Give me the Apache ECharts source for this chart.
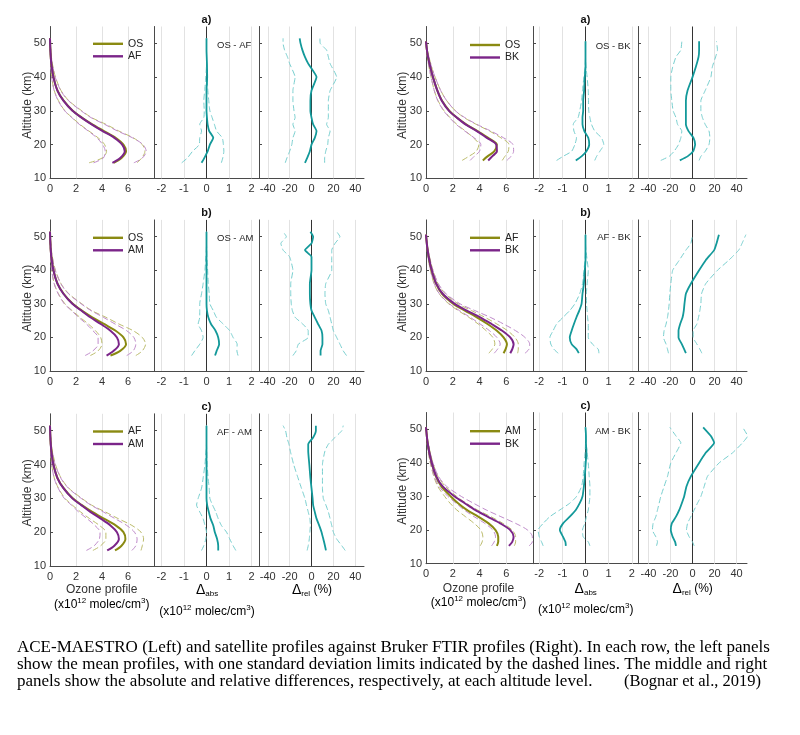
<!DOCTYPE html>
<html><head><meta charset="utf-8">
<script src="https://cdn.jsdelivr.net/npm/echarts@6/dist/echarts.min.js"></script>
<style>html,body{margin:0;padding:0;background:#fff;}#c{width:800px;height:735px;}</style>
</head><body><div id="c"></div>
<script>
// ---------- DATA ----------
const altL = [14.6,16,18,20,22,24,26,28,30,33,36,40,44,46,48,50,51.5];
const altR = [15.3,16.5,18,20,22,24,26,28,30,33,36,40,43,46,48,50.6];
const xTicksProfile = [0,2,4,6];
const xTicksAbs = [-2,-1,0,1,2];
const xTicksRel = [-40,-20,0,20,40];
const yTicks = [10,20,30,40,50];

// Left row a) OS vs AF
const L1_OS    = [4.9,5.5,5.85,5.65,5.05,4.15,3.25,2.45,1.75,1.05,0.58,0.27,0.11,0.06,0.03,0.01,0];
const L1_AF    = [4.8,5.4,5.75,5.55,4.95,4.05,3.2,2.42,1.73,1.03,0.57,0.26,0.1,0.06,0.03,0.01,0];
const L1_OS_hi = [6.7,7.05,7.3,7.1,6.4,5.3,4.3,3.2,2.45,1.45,0.85,0.42,0.18,0.11,0.06,0.02,0];
const L1_OS_lo = [3.0,4.0,4.35,4.2,3.7,3.0,2.3,1.7,1.15,0.65,0.33,0.13,0.05,0.03,0.01,0,0];
const L1_AF_hi = [6.45,7.1,7.4,7.15,6.35,5.2,4.2,3.15,2.4,1.42,0.83,0.4,0.17,0.1,0.06,0.02,0];
const L1_AF_lo = [3.35,4.1,4.25,4.05,3.6,2.95,2.25,1.68,1.13,0.63,0.32,0.13,0.05,0.03,0.01,0,0];
const L1_abs    = [-0.22,-0.1,0.05,0.15,0.3,0.12,0.05,0.02,0,0,0,0.03,0.02,0.01,0,0,0];
const L1_abs_lo = [-1.1,-0.85,-0.62,-0.32,-0.3,-0.22,-0.3,-0.12,-0.1,-0.12,-0.08,-0.03,0,0,0,0,0];
const L1_abs_hi = [0.66,0.72,0.77,0.75,0.7,0.45,0.35,0.25,0.15,0.1,0.06,0.03,0.01,0,0,0,0];
const L1_rel    = [-6,-4,-1.5,0,3,4.6,1.5,0,-1,-1,0,4.6,-3,-6,-8.3,-10,-10.8];
const L1_rel_lo = [-24,-22.5,-20,-18,-17,-15,-17,-15,-16,-17,-17,-15,-20,-22,-24.6,-26,-26];
const L1_rel_hi = [12,12,13,14.8,15.4,17,13.8,15.4,15.4,15.4,17,23,17,15.4,13.8,8,7.7];

// Left row b) OS vs AM
const L2_OS    = [4.65,5.4,5.85,5.65,5.05,4.15,3.25,2.45,1.75,1.05,0.58,0.27,0.11,0.06,0.03,0.01,0];
const L2_AM    = [4.35,4.9,5.3,5.15,4.65,3.9,3.1,2.4,1.72,1.03,0.57,0.26,0.1,0.06,0.03,0.01,0];
const L2_OS_hi = [6.6,7.1,7.35,7.1,6.4,5.3,4.3,3.2,2.45,1.45,0.85,0.42,0.18,0.11,0.06,0.02,0];
const L2_OS_lo = [3.1,3.7,4.0,3.9,3.5,2.95,2.3,1.7,1.15,0.65,0.33,0.13,0.05,0.03,0.01,0,0];
const L2_AM_hi = [5.9,6.4,6.6,6.45,5.9,5.0,4.1,3.15,2.4,1.42,0.83,0.4,0.17,0.1,0.06,0.02,0];
const L2_AM_lo = [2.7,3.3,3.7,3.7,3.3,2.8,2.2,1.65,1.1,0.63,0.32,0.13,0.05,0.03,0.01,0,0];
const L2_abs    = [0.38,0.45,0.56,0.52,0.4,0.2,0.08,0.02,0,0,0,0,0,0,0,0,0];
const L2_abs_lo = [-0.66,-0.52,-0.3,-0.15,-0.22,-0.37,-0.3,-0.3,-0.3,-0.22,-0.15,-0.07,-0.03,-0.01,0,0,0];
const L2_abs_hi = [1.4,1.35,1.36,1.18,1.03,0.74,0.44,0.3,0.15,0.12,0.08,0.05,0.02,0.01,0,0,0];
const L2_rel    = [8.3,8.3,10,10,9.2,6,3,0,-1,-1.5,-1.5,0,0,-6,0,1.5,-1];
const L2_rel_lo = [-17,-14,-12,-3,-3,-8,-15,-17.5,-18.5,-19,-19,-17,-20,-26,-28,-23,-26];
const L2_rel_hi = [32,29,26,23,20,18.5,17,15.4,13,12.3,13,18.5,18.5,18.5,21.5,26,23];

// Left row c) AF vs AM
const L3_AF    = [5.0,5.5,5.8,5.65,5.05,4.15,3.25,2.45,1.75,1.05,0.58,0.27,0.11,0.06,0.03,0.01,0];
const L3_AM    = [4.4,4.95,5.3,5.15,4.65,3.9,3.1,2.4,1.72,1.03,0.57,0.26,0.1,0.06,0.03,0.01,0];
const L3_AF_hi = [7.0,7.1,7.2,7.0,6.3,5.25,4.25,3.2,2.45,1.45,0.85,0.42,0.18,0.1,0.06,0.02,0];
const L3_AF_lo = [3.3,3.9,4.3,4.3,3.8,3.05,2.35,1.72,1.15,0.65,0.33,0.13,0.05,0.03,0.01,0,0];
const L3_AM_hi = [6.3,6.6,6.7,6.5,5.9,5.0,4.1,3.15,2.4,1.42,0.83,0.4,0.17,0.1,0.06,0.02,0];
const L3_AM_lo = [2.8,3.4,3.8,3.85,3.45,2.85,2.2,1.65,1.1,0.63,0.32,0.13,0.05,0.03,0.01,0,0];
const L3_abs    = [0.52,0.52,0.47,0.37,0.3,0.18,0.1,0.03,0,0,0,0,0,0,0,0,0];
const L3_abs_lo = [-0.22,-0.12,-0.03,0,-0.07,-0.15,-0.3,-0.44,-0.37,-0.22,-0.15,-0.07,-0.02,0,0,0,0];
const L3_abs_hi = [1.3,1.18,1.03,0.89,0.66,0.52,0.41,0.27,0.15,0.12,0.07,0.03,0.01,0,0,0,0];
const L3_rel    = [13.2,12.3,10.8,9.2,7,4.6,3,1.5,1,0,-1,-2,-3,-3,1.5,4,4];
const L3_rel_lo = [-4,-3,-2,-1.5,-1,-1.5,-3,-4.6,-6,-9.2,-12.3,-16.3,-19.4,-20.6,-22.5,-23.7,-26];
const L3_rel_hi = [30.8,27.7,23,20,18.5,17,15.4,13.2,10.8,10,10,10,12.3,15.4,21.5,27.7,29];

// Right row a) OS vs BK
const R1_OS    = [4.25,4.6,5.1,5.3,4.65,3.85,3.0,2.3,1.75,1.2,0.85,0.52,0.32,0.15,0.07,0];
const R1_BK    = [4.65,4.95,5.3,5.25,4.55,3.8,2.95,2.3,1.72,1.18,0.85,0.52,0.32,0.15,0.07,0];
const R1_OS_hi = [5.7,5.9,6.15,6.2,5.6,4.75,3.75,2.85,2.2,1.55,1.1,0.68,0.42,0.22,0.1,0];
const R1_OS_lo = [2.7,3.2,3.75,3.95,3.55,2.95,2.3,1.8,1.35,0.9,0.62,0.38,0.22,0.1,0.04,0];
const R1_BK_hi = [6.05,6.35,6.55,6.5,5.8,4.85,3.8,2.9,2.2,1.55,1.1,0.68,0.42,0.22,0.1,0];
const R1_BK_lo = [3.3,3.6,4.0,4.1,3.6,2.9,2.25,1.75,1.32,0.88,0.62,0.38,0.22,0.1,0.04,0];
const R1_abs    = [-0.42,-0.17,0.04,0.16,0.12,-0.05,-0.13,-0.13,-0.1,-0.1,-0.06,-0.03,0,0,0,0];
const R1_abs_lo = [-1.25,-0.97,-0.6,-0.46,-0.39,-0.5,-0.53,-0.32,-0.25,-0.17,-0.13,-0.07,-0.02,0,0,0];
const R1_abs_hi = [0.4,0.48,0.62,0.79,0.69,0.4,0.26,0.19,0.14,0.13,0.12,0.07,0.02,0,0,0];
const R1_rel    = [-11.5,-4.5,0.6,2.4,0.9,-3.6,-6,-6,-6,-6,-4.5,0,3,5.5,6,6];
const R1_rel_lo = [-28.8,-21.2,-16.7,-12.7,-10.6,-9.7,-13.6,-15,-17.6,-18.8,-19.7,-19.7,-18,-15,-10.6,-9.7];
const R1_rel_hi = [6,7.6,11.5,15,15.8,15,11.5,9,7.6,7.6,11.5,16.7,18,21,22.7,21.8];

// Right row b) AF vs BK
const R2_AF    = [5.8,5.95,6.05,5.8,5.3,4.6,3.8,2.9,2.05,1.2,0.75,0.42,0.25,0.12,0.06,0];
const R2_BK    = [6.3,6.45,6.55,6.3,5.7,4.9,4.05,3.05,2.15,1.25,0.77,0.43,0.25,0.12,0.06,0];
const R2_AF_hi = [6.85,6.9,6.9,6.65,6.1,5.3,4.4,3.4,2.4,1.45,0.9,0.52,0.32,0.16,0.08,0];
const R2_AF_lo = [4.7,4.95,5.15,5.0,4.5,3.9,3.2,2.4,1.7,0.98,0.6,0.33,0.19,0.09,0.04,0];
const R2_BK_hi = [7.4,7.7,7.75,7.4,6.7,5.8,4.8,3.65,2.55,1.5,0.92,0.52,0.32,0.16,0.08,0];
const R2_BK_lo = [5.1,5.35,5.55,5.3,4.75,4.05,3.3,2.5,1.75,1.0,0.62,0.34,0.19,0.09,0.04,0];
const R2_abs    = [-0.29,-0.39,-0.6,-0.68,-0.6,-0.5,-0.39,-0.27,-0.17,-0.13,-0.07,-0.03,0,0,0,0];
const R2_abs_lo = [-1.18,-1.37,-1.5,-1.54,-1.4,-1.25,-0.97,-0.68,-0.46,-0.25,-0.13,-0.07,-0.02,0,0,0];
const R2_abs_hi = [0.58,0.55,0.3,0.12,0.12,0.12,0.09,0.07,0.04,0.04,0.07,0.12,0.07,0.02,0,0];
const R2_rel    = [-6,-7.6,-9.7,-12.7,-12.7,-11.2,-9,-7.9,-7.3,-6,-1.5,6,12,19.7,21.8,24];
const R2_rel_lo = [-21.8,-22.7,-24,-26.4,-25.8,-24,-22.7,-21.8,-21.2,-20.6,-19.7,-18,-12,-6,-1.5,0];
const R2_rel_hi = [8.5,6.7,4,0.6,0.6,4,5.5,6.7,7.6,8.2,12,22.7,33,42,45,48.5];

// Right row c) AM vs BK
const R3_AM    = [5.3,5.4,5.4,5.2,4.68,3.9,3.05,2.4,1.85,1.15,0.74,0.42,0.25,0.12,0.06,0];
const R3_BK    = [6.2,6.45,6.55,6.3,5.55,4.6,3.67,2.9,2.15,1.25,0.77,0.43,0.25,0.12,0.06,0];
const R3_AM_hi = [6.6,6.7,6.7,6.45,5.75,4.85,3.85,3.0,2.3,1.45,0.9,0.52,0.32,0.16,0.08,0];
const R3_AM_lo = [4.05,4.2,4.25,4.1,3.6,2.95,2.3,1.8,1.4,0.88,0.58,0.32,0.18,0.08,0.04,0];
const R3_BK_hi = [7.7,7.95,7.95,7.6,6.7,5.6,4.5,3.55,2.65,1.55,0.93,0.52,0.32,0.16,0.08,0];
const R3_BK_lo = [4.9,5.1,5.2,5.0,4.4,3.6,2.85,2.25,1.65,0.98,0.62,0.34,0.19,0.09,0.04,0];
const R3_abs    = [-0.85,-0.87,-0.97,-1.11,-0.97,-0.68,-0.42,-0.25,-0.13,-0.07,-0.03,0.01,0.04,0.02,0.02,0];
const R3_abs_lo = [-1.83,-1.9,-2.0,-2.05,-1.83,-1.54,-1.11,-0.68,-0.39,-0.17,-0.1,-0.06,-0.02,0,0,0];
const R3_abs_hi = [0.19,0.12,-0.1,-0.13,-0.03,0.04,0.12,0.16,0.19,0.19,0.16,0.12,0.07,0.03,0.01,0];
const R3_rel    = [-15,-15.8,-18,-19.7,-18.8,-15,-12,-9.7,-7.6,-5.5,-1.5,6,12,19.7,16.7,9.7];
const R3_rel_lo = [-32.7,-31.8,-33.3,-36.4,-35.8,-33.3,-31.8,-30.3,-28.8,-25.8,-22.7,-19.7,-15,-10.6,-15,-20.6];
const R3_rel_hi = [1.5,0,-3,-5.5,-4.5,-1.5,1.5,4.5,7.6,10.6,13.6,24.2,36.4,45.5,50,45.5];

const captionLines = [
  'ACE-MAESTRO (Left) and satellite profiles against Bruker FTIR profiles (Right). In each row, the left panels',
  'show the mean profiles, with one standard deviation limits indicated by the dashed lines. The middle and right',
  'panels show the absolute and relative differences, respectively, at each altitude level.'
];
const citation = '(Bognar et al., 2019)';

// ---------- PANELS ----------
const panels = [
  {side:'L', row:0, alt:altL, names:['OS','AF'], m:[L1_OS,L1_AF], hi:[L1_OS_hi,L1_AF_hi], lo:[L1_OS_lo,L1_AF_lo], abs:[L1_abs,L1_abs_lo,L1_abs_hi], rel:[L1_rel,L1_rel_lo,L1_rel_hi], tag:'a)', diff:'OS - AF'},
  {side:'L', row:1, alt:altL, names:['OS','AM'], m:[L2_OS,L2_AM], hi:[L2_OS_hi,L2_AM_hi], lo:[L2_OS_lo,L2_AM_lo], abs:[L2_abs,L2_abs_lo,L2_abs_hi], rel:[L2_rel,L2_rel_lo,L2_rel_hi], tag:'b)', diff:'OS - AM'},
  {side:'L', row:2, alt:altL, names:['AF','AM'], m:[L3_AF,L3_AM], hi:[L3_AF_hi,L3_AM_hi], lo:[L3_AF_lo,L3_AM_lo], abs:[L3_abs,L3_abs_lo,L3_abs_hi], rel:[L3_rel,L3_rel_lo,L3_rel_hi], tag:'c)', diff:'AF - AM'},
  {side:'R', row:0, alt:altR, names:['OS','BK'], m:[R1_OS,R1_BK], hi:[R1_OS_hi,R1_BK_hi], lo:[R1_OS_lo,R1_BK_lo], abs:[R1_abs,R1_abs_lo,R1_abs_hi], rel:[R1_rel,R1_rel_lo,R1_rel_hi], tag:'a)', diff:'OS - BK'},
  {side:'R', row:1, alt:altR, names:['AF','BK'], m:[R2_AF,R2_BK], hi:[R2_AF_hi,R2_BK_hi], lo:[R2_AF_lo,R2_BK_lo], abs:[R2_abs,R2_abs_lo,R2_abs_hi], rel:[R2_rel,R2_rel_lo,R2_rel_hi], tag:'b)', diff:'AF - BK'},
  {side:'R', row:2, alt:altR, names:['AM','BK'], m:[R3_AM,R3_BK], hi:[R3_AM_hi,R3_BK_hi], lo:[R3_AM_lo,R3_BK_lo], abs:[R3_abs,R3_abs_lo,R3_abs_hi], rel:[R3_rel,R3_rel_lo,R3_rel_hi], tag:'c)', diff:'AM - BK'}
];

// ---------- LAYOUT ----------
const FONT = '"Liberation Sans", Arial, Helvetica, sans-serif';
const SERIF = '"Liberation Serif", "Times New Roman", serif';
const cols = {
  L: [{left:50, width:104, min:0, max:8}, {left:154, width:105, min:-2.33, max:2.33}, {left:259, width:105, min:-48, max:48}],
  R: [{left:426, width:107, min:0, max:8}, {left:533, width:105, min:-2.27, max:2.27}, {left:638, width:109, min:-49.5, max:49.5}]
};
const rows = {
  L: [[26.5,178.3],[219.9,371],[413.8,566]],
  R: [[26.5,178.3],[219.9,371],[412.5,563.7]]
};
const legendPos = {L:[[93,38.3],[93,232.3],[93,426]], R:[[470,39.5],[470,232.3],[470,425.7]]};
const OLIVE='#8a8a12', OLIVE_D='#bcbc6c', PURPLE='#7b2589', PURPLE_D='#c08ccb', TEAL='#13999a', TEAL_D='#78cfcf';
const GRIDC='#e2e2e2', AXC='#4a4a4a';

const grids=[], xAxes=[], yAxes=[], series=[], legends=[], graphics=[];

function ln(name, gi, xs, alt, color, width, dashed, smooth, z){
  return {type:'line', name, xAxisIndex:gi, yAxisIndex:gi, data: alt.map((a,i)=>[xs[i], a]),
    symbol:'none', showSymbol:false, smooth, lineStyle:{color, width, type: dashed?[6,3]:'solid'},
    itemStyle:{color}, emphasis:{disabled:true}, silent:true, animation:false, z, clip:true};
}
function mk(vals, zero){
  const d = vals.map(v=>({xAxis:v, lineStyle:{color:GRIDC, width:1, type:'solid'}}));
  if (zero) d.push({xAxis:0, lineStyle:{color:'#333', width:1, type:'solid'}});
  return {silent:true, symbol:['none','none'], label:{show:false}, animation:false, z:1, data:d, emphasis:{disabled:true}};
}

panels.forEach((p, pi)=>{
  const [top, bot] = rows[p.side][p.row];
  cols[p.side].forEach((c, k)=>{
    const gi = pi*3+k;
    grids.push({left:c.left, top, width:c.width, height:bot-top, containLabel:false, outerBoundsMode:'none'});
    const ticks = k===0?xTicksProfile:(k===1?xTicksAbs:xTicksRel);
    xAxes.push({type:'value', gridIndex:gi, min:c.min, max:c.max,
      axisLine:{show:true, onZero:false, lineStyle:{color:AXC, width:1}},
      axisTick:{show:true, inside:true, length:3, customValues:ticks, lineStyle:{color:AXC}},
      axisLabel:{show:true, customValues:ticks, fontSize:11, color:'#333', margin:5, fontFamily:FONT},
      splitLine:{show:false}});
    yAxes.push({type:'value', gridIndex:gi, min:10, max:55,
      axisLine:{show:true, onZero:false, lineStyle:{color:AXC, width:1}},
      axisTick:{show:true, inside:true, length:3, customValues:yTicks, lineStyle:{color:AXC}},
      axisLabel:{show:k===0, customValues:yTicks, fontSize:11, color:'#333', margin:4, fontFamily:FONT},
      splitLine:{show:false}});
  });
  const g0=pi*3, g1=pi*3+1, g2=pi*3+2;
  const nm = p.names.map(n=>pi+'|'+n);
  // profile panel
  const d1 = ln(nm[0]+'hi', g0, p.hi[0], p.alt, OLIVE_D, 1, true, 0.3, 2);
  d1.markLine = mk([2,4,6], false);
  series.push(d1);
  series.push(ln(nm[0]+'lo', g0, p.lo[0], p.alt, OLIVE_D, 1, true, 0.3, 2));
  series.push(ln(nm[1]+'hi', g0, p.hi[1], p.alt, PURPLE_D, 1, true, 0.3, 2));
  series.push(ln(nm[1]+'lo', g0, p.lo[1], p.alt, PURPLE_D, 1, true, 0.3, 2));
  series.push(ln(nm[0], g0, p.m[0], p.alt, OLIVE, 2, false, 0.3, 3));
  series.push(ln(nm[1], g0, p.m[1], p.alt, PURPLE, 2, false, 0.3, 4));
  // abs panel
  const a1 = ln('abslo'+pi, g1, p.abs[1], p.alt, TEAL_D, 1, true, 0.2, 2);
  a1.markLine = mk([-2,-1,1,2], true);
  series.push(a1);
  series.push(ln('abshi'+pi, g1, p.abs[2], p.alt, TEAL_D, 1, true, 0.2, 2));
  series.push(ln('abs'+pi, g1, p.abs[0], p.alt, TEAL, 1.8, false, 0.2, 3));
  // rel panel
  const r1 = ln('rello'+pi, g2, p.rel[1], p.alt, TEAL_D, 1, true, 0.15, 2);
  r1.markLine = mk([-40,-20,20,40], true);
  series.push(r1);
  series.push(ln('relhi'+pi, g2, p.rel[2], p.alt, TEAL_D, 1, true, 0.15, 2));
  series.push(ln('rel'+pi, g2, p.rel[0], p.alt, TEAL, 1.8, false, 0.15, 3));
  // legend
  const lp = legendPos[p.side][p.row];
  legends.push({left:lp[0], top:lp[1], orient:'vertical', icon:'rect', itemWidth:30, itemHeight:2.4, itemGap:1.5, padding:0,
    selectedMode:false, data:nm, formatter:n=>n.split('|')[1],
    textStyle:{fontSize:10.5, color:'#222', fontFamily:FONT, lineHeight:10}});
  // texts
  const absC = cols[p.side][1];
  const zeroX = absC.left + absC.width*(0-absC.min)/(absC.max-absC.min);
  graphics.push({type:'text', x:zeroX, y: top-6.5, silent:true, z:10,
    style:{text:p.tag, align:'center', verticalAlign:'middle', font:'bold 11px '+FONT, fill:'#111'}});
  const textYs = {L:[45,238,432], R:[46.5,237.3,431]};
  if (p.side==='L') {
    graphics.push({type:'text', x:217, y:textYs.L[p.row], silent:true, z:10,
      style:{text:p.diff, align:'left', verticalAlign:'middle', font:'9.5px '+FONT, fill:'#222'}});
  } else {
    graphics.push({type:'text', x:630.5, y:textYs.R[p.row], silent:true, z:10,
      style:{text:p.diff, align:'right', verticalAlign:'middle', font:'9.5px '+FONT, fill:'#222'}});
  }
  graphics.push({type:'text', x: p.side==='L'?28:403, y:(top+bot)/2+3, rotation:Math.PI/2, silent:true, z:10,
    style:{text:'Altitude (km)', align:'center', verticalAlign:'middle', font:'12px '+FONT, fill:'#333'}});
});

// bottom axis titles
const rich = {
  a:{fontSize:12, fontFamily:FONT, color:'#333', lineHeight:16},
  s:{fontSize:8, fontFamily:FONT, color:'#333', lineHeight:8, verticalAlign:'top'},
  d:{fontSize:14, fontFamily:FONT, color:'#333', lineHeight:16},
  b:{fontSize:8, fontFamily:FONT, color:'#333', lineHeight:8, verticalAlign:'bottom'}
};
const unitTxt = '{a|(x10}{s|12}{a| molec/cm}{s|3}{a|)}';
[[101.7,590,605,207,590,612,312,590],[478.5,589,603,585.7,589,610,692.7,589]].forEach(q=>{
  graphics.push({type:'text', x:q[0], y:q[1], silent:true, z:10, style:{text:'Ozone profile', align:'center', verticalAlign:'middle', font:'12px '+FONT, fill:'#333'}});
  graphics.push({type:'text', x:q[0], y:q[2], silent:true, z:10, style:{text:unitTxt, rich, align:'center', verticalAlign:'middle'}});
  graphics.push({type:'text', x:q[3], y:q[4], silent:true, z:10, style:{text:'{d|Δ}{b|abs}', rich, align:'center', verticalAlign:'middle'}});
  graphics.push({type:'text', x:q[3], y:q[5], silent:true, z:10, style:{text:unitTxt, rich, align:'center', verticalAlign:'middle'}});
  graphics.push({type:'text', x:q[6], y:q[7], silent:true, z:10, style:{text:'{d|Δ}{b|rel}{a| (%)}', rich, align:'center', verticalAlign:'middle'}});
});

// caption
const capY = [647.5, 664.5, 681.5];
captionLines.forEach((t,i)=>{
  graphics.push({type:'text', x:17, y:capY[i], silent:true, z:10,
    style:{text:t, align:'left', verticalAlign:'middle', font:'17px '+SERIF, fill:'#000'}});
});
graphics.push({type:'text', x:624, y:capY[2], silent:true, z:10,
  style:{text:citation, align:'left', verticalAlign:'middle', font:'16.5px '+SERIF, fill:'#000'}});

const chart = echarts.init(document.getElementById('c'), null, {renderer:'canvas'});
chart.setOption({
  backgroundColor:'#fff', animation:false,
  textStyle:{fontFamily:FONT},
  grid:grids, xAxis:xAxes, yAxis:yAxes, series, legend:legends, graphic:graphics
});
</script></body></html>
